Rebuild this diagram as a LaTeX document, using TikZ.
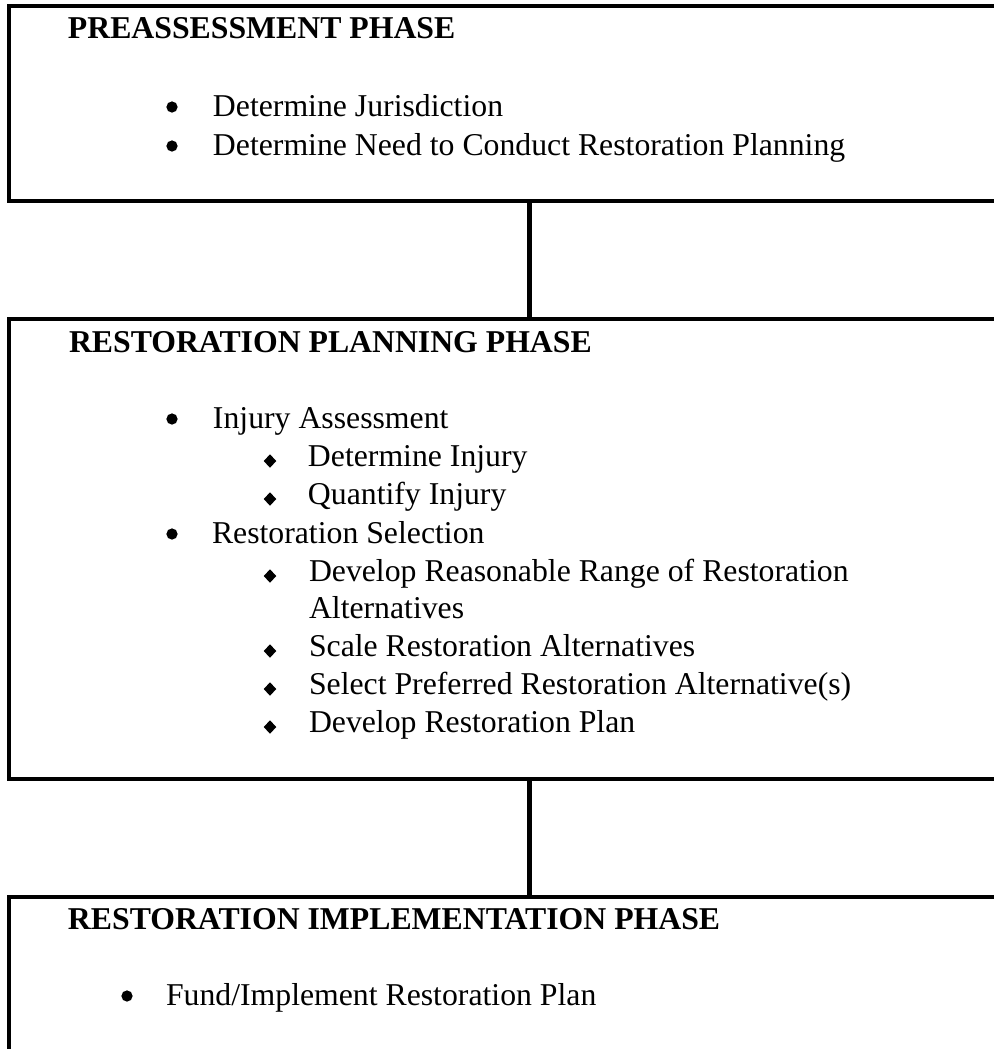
\documentclass[tikz,border=0pt]{standalone}
\usepackage{fontspec}
\setmainfont{Liberation Serif}
\usetikzlibrary{shapes.geometric}

\begin{document}
\begin{tikzpicture}[x=0.4pt, y=-0.4pt, inner sep=0pt, outer sep=0pt,
   font=\fontsize{12.7pt}{15pt}\selectfont,
   phase/.style={draw, line width=1.6pt, rectangle, minimum width=416.4pt},
   title/.style={anchor=base west, font=\fontsize{12.7pt}{15pt}\selectfont\bfseries},
   entry/.style={anchor=base west},
   dot/.style={circle, fill, minimum size=4.5pt},
   diam/.style={diamond, fill, minimum width=5pt, minimum height=5.4pt}
   ]
   \useasboundingbox (0,0) rectangle (994,1049);
   \clip (0,0) rectangle (994,1049);

   % phase boxes (right side runs off the page)
   \node[phase, minimum height=78pt] (pre) at (529.5,103.5) {};
   \node[phase, minimum height=184pt] (plan) at (529.5,549) {};
   \node[phase, minimum height=121.2pt] (impl) at (529.5,1048.5) {};

   \draw[line width=1.8pt] (pre.south) -- (plan.north);
   \draw[line width=1.8pt] (plan.south) -- (impl.north);

   % preassessment
   \path (68,38) node[title] (preT) {PREASSESSMENT PHASE};
   \path (172,107) node[dot] (preB1) {}
   (213,116) node[entry] (preA) {Determine Jurisdiction};
   \path (172,146) node[dot] (preB2) {}
   (213,155) node[entry] (preB) {Determine Need to Conduct Restoration Planning};

   % restoration planning
   \path (69,352) node[title] (planT) {RESTORATION PLANNING PHASE};
   \path (172,419) node[dot] (planB1) {}
   (213,428) node[entry] (injury) {Injury Assessment};
   \path (270,461) node[diam] (planD1) {}
   (308,466) node[entry] (detInj) {Determine Injury};
   \path (270,499) node[diam] (planD2) {}
   (308,504) node[entry] (quantInj) {Quantify Injury};
   \path (172,534) node[dot] (planB2) {}
   (212,543) node[entry] (select) {Restoration Selection};
   \path (270,576) node[diam] (planD3) {}
   (309,581) node[entry] (range) {Develop Reasonable Range of Restoration}
   (309,618) node[entry] (rangeB) {Alternatives};
   \path (270,651) node[diam] (planD4) {}
   (309,656) node[entry] (scale) {Scale Restoration Alternatives};
   \path (270,689) node[diam] (planD5) {}
   (309,694) node[entry] (prefer) {Select Preferred Restoration Alternative(s)};
   \path (270,727) node[diam] (planD6) {}
   (309,732) node[entry] (plandoc) {Develop Restoration Plan};

   % restoration implementation
   \path (68,929) node[title] (implT) {RESTORATION IMPLEMENTATION PHASE};
   \path (127,996) node[dot] (implB1) {}
   (166,1005) node[entry] (fund) {Fund/Implement Restoration Plan};

\end{tikzpicture}
\end{document}
